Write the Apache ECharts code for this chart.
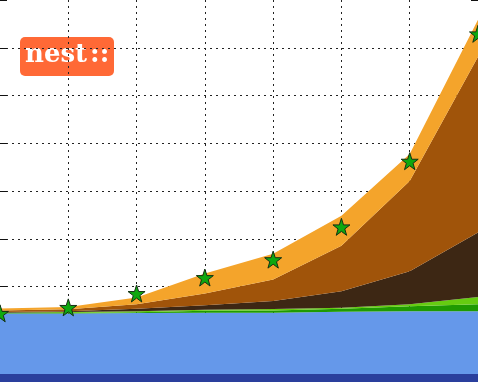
<!DOCTYPE html>
<html><head><meta charset="utf-8">
<script src="https://cdn.jsdelivr.net/npm/echarts@6/dist/echarts.min.js"></script>
<style>html,body{margin:0;padding:0;background:#fff}#c{width:478px;height:382px}</style>
</head><body><div id="c"></div>
<script>
const categories = ['0','1','2','3','4','5','6','7'];
const layerDarkBlue  = [1.67, 1.67, 1.67, 1.67, 1.67, 1.67, 1.67, 1.67];
const layerBlue      = [12.70, 12.70, 12.77, 12.81, 12.85, 13.02, 13.13, 13.13];
const layerDarkGreen = [0.08, 0.08, 0.19, 0.42, 0.48, 0.63, 1.04, 1.46];
const layerLightGreen= [0.06, 0.19, 0.21, 0.25, 0.27, 0.25, 0.42, 1.52];
const layerDarkBrown = [0.17, 0.19, 0.48, 0.90, 1.67, 3.46, 6.94, 13.54];
const layerBrown     = [0.31, 0.38, 0.94, 2.50, 4.52, 9.52, 18.90, 36.81];
const layerOrange    = [0.42, 0.52, 1.46, 4.17, 5.42, 6.25, 5.63, 7.71];
const starValues     = [14.38, 15.63, 18.54, 21.88, 25.63, 32.50, 46.25, 72.92];
const logoWord = 'nest';
const logoColons = '::';

const layers = [
  {name:'a', data:layerDarkBlue, color:'#2a3f9d'},
  {name:'b', data:layerBlue, color:'#6598ea'},
  {name:'c', data:layerDarkGreen, color:'#1f9a02'},
  {name:'d', data:layerLightGreen, color:'#66cc11'},
  {name:'e', data:layerDarkBrown, color:'#3d2714'},
  {name:'f', data:layerBrown, color:'#a0540a'},
  {name:'g', data:layerOrange, color:'#f4a42b'}
];
const starPath = 'path://M50,0 L61.8,35.1 L98.1,35.1 L68.9,56.7 L79.4,90.5 L50,69.6 L20.6,90.5 L31.1,56.7 L1.9,35.1 L38.2,35.1 Z';

const chart = echarts.init(document.getElementById('c'), null, {renderer:'canvas'});
const gridLine = {show:true, showMinLine:false, showMaxLine:false, lineStyle:{color:'#222', width:1, type:[2,4]}};
const logoFont = {fontFamily:'"DejaVu Serif", serif', fontWeight:'bold', fontSize:26, fill:'#ffffff'};
chart.setOption({
  animation:false,
  grid:{left:0, right:0, top:-2, bottom:0, containLabel:false},
  xAxis:{type:'category', data:categories, boundaryGap:false,
    axisLine:{show:false}, axisLabel:{show:false},
    axisTick:{show:true, inside:true, length:7, lineStyle:{color:'#111'}},
    splitLine:gridLine},
  yAxis:[
    {type:'value', min:0, max:80, interval:10, position:'left',
     axisLine:{show:false}, axisLabel:{show:false},
     axisTick:{show:true, inside:true, length:7, lineStyle:{color:'#111'}},
     splitLine:gridLine},
    {type:'value', min:0, max:80, interval:10, position:'right',
     axisLine:{show:true, lineStyle:{color:'rgba(0,0,0,0.2)'}}, axisLabel:{show:false},
     axisTick:{show:true, inside:true, length:7, lineStyle:{color:'#111'}},
     splitLine:{show:false}}
  ],
  series: layers.map(l => ({
    type:'line', name:l.name, stack:'total', data:l.data, symbol:'none',
    lineStyle:{width:0}, areaStyle:{color:l.color, opacity:1}, z:1
  })).concat([{
    type:'line', name:'stars', data:starValues, symbol:starPath, symbolSize:17,
    showAllSymbol:true, lineStyle:{width:0, opacity:0},
    itemStyle:{color:'#0fa80f', borderColor:'#143014', borderWidth:1}, z:5
  }]),
  graphic:[{
    type:'group', left:20, top:37, z:100,
    children:[
      {type:'rect', shape:{x:0, y:0, width:94, height:39, r:5}, style:{fill:'#ff6936'}},
      {type:'text', x:5, y:18, style:{
        text:'{w|' + logoWord + '}{c|' + logoColons + '}',
        align:'left', verticalAlign:'middle',
        rich:{
          w:Object.assign({}, logoFont),
          c:Object.assign({padding:[0,0,0,3]}, logoFont)
        }
      }}
    ]
  }]
});
</script></body></html>
